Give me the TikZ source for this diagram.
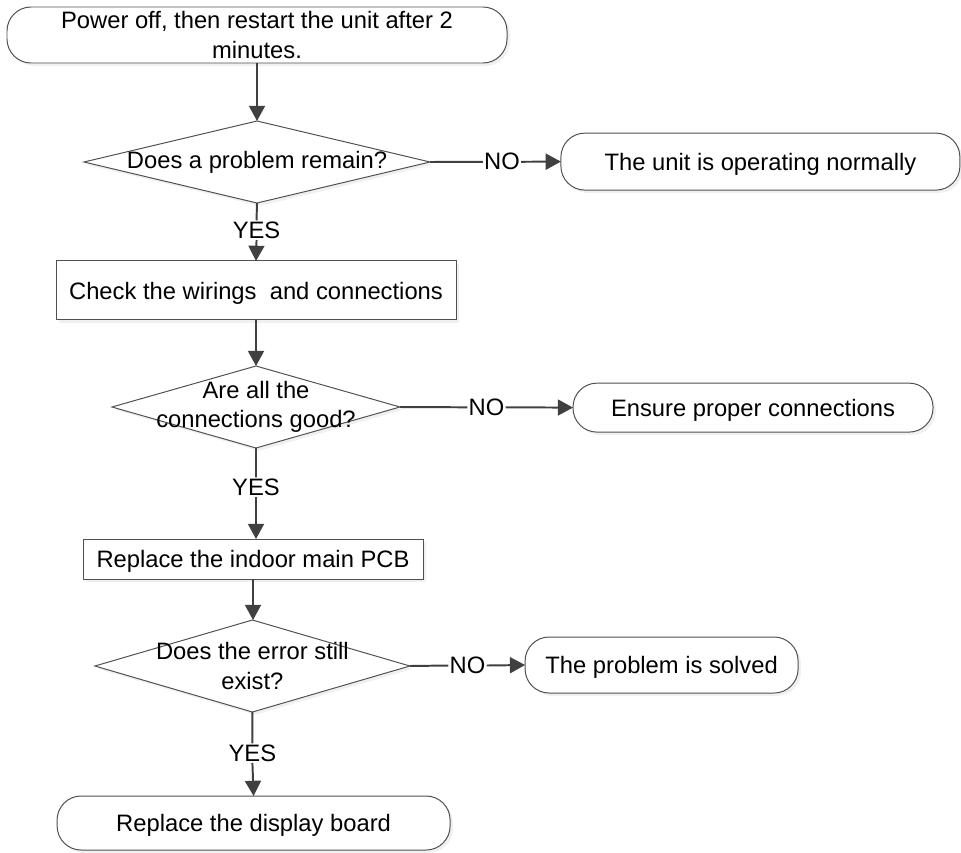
\documentclass[tikz,border=0pt]{standalone}
\usepackage{fontspec}
\setmainfont{Liberation Sans}
\definecolor{fcline}{RGB}{64,64,64}
\definecolor{fcborder}{RGB}{80,80,80}
\newcommand{\ztxt}[1]{\makebox[0pt]{#1}}
\usetikzlibrary{arrows.meta,positioning,shapes.geometric,shadows,calc}

\begin{document}
\begin{tikzpicture}[
  font=\fontsize{16.9}{21}\selectfont,
  fcshadow/.style={drop shadow={shadow xshift=2pt,shadow yshift=-2pt,opacity=0.12}},
  fcterm/.style={draw=fcborder,line width=0.7pt,fill=white,rounded corners=0.6cm,
    align=center,inner sep=2pt,outer sep=0pt,text depth=0pt,fcshadow},
  fcbox/.style={draw=fcborder,line width=0.7pt,fill=white,align=center,
    inner sep=2pt,outer sep=0pt,text depth=0pt,fcshadow},
  fcdec/.style={diamond,draw=fcborder,line width=0.7pt,fill=white,align=center,
    inner sep=0pt,outer sep=0pt,fcshadow},
  fcwire/.style={draw=fcline,line width=1.4pt},
  fcflow/.style={fcwire,-{Triangle[length=0.38cm,width=0.4cm]}},
  fclbl/.style={inner sep=1pt,outer sep=0pt}
]
  \useasboundingbox (0,0) rectangle (24.025,-21.3);
  % Start
  \node[fcterm,minimum width=12.5cm,minimum height=1.4cm] (start) at (6.425,-0.875)
    {Power off, then restart the unit after 2\\minutes.};
  % Question 1: problem remains
  \node[fcdec,minimum width=8.65cm,minimum height=2.05cm] (dec1) at (6.425,-4.05)
    {\ztxt{Does a problem remain?}};
  \node[fcterm,minimum width=9.975cm,minimum height=1.425cm] (ok1) at (19.01,-4.04)
    {The unit is operating normally};
  % Step 1: wiring
  \node[fcbox,minimum width=10cm,minimum height=1.475cm] (wire) at (6.4,-7.26)
    {Check the wirings\ \ and connections};
  % Question 2: connections
  \node[fcdec,minimum width=7.2cm,minimum height=2.05cm] (dec2) at (6.4,-10.175)
    {\ztxt{Are all the}\\\ztxt{connections good?}};
  \node[fcterm,minimum width=9cm,minimum height=1.225cm] (ok2) at (18.825,-10.19)
    {Ensure proper connections};
  % Step 2: main PCB
  \node[fcbox,minimum width=8.5cm,minimum height=1cm] (pcb) at (6.325,-13.975)
    {Replace the indoor main PCB};
  % Question 3: error still there
  \node[fcdec,minimum width=7.875cm,minimum height=2.3cm] (dec3) at (6.31,-16.65)
    {\ztxt{Does the error still}\\\ztxt{exist?}};
  \node[fcterm,minimum width=6.825cm,minimum height=1.4cm] (ok3) at (16.54,-16.625)
    {The problem is solved};
  % End
  \node[fcterm,minimum width=9.825cm,minimum height=1.35cm] (disp) at (6.34,-20.575)
    {Replace the display board};

  % YES / NO labels
  \node[fclbl] (no1) at ($(dec1.east)!0.55!(ok1.west)$) {NO};
  \node[fclbl] (no2) at ($(dec2.east)!0.5!(ok2.west)$) {NO};
  \node[fclbl] (no3) at ($(dec3.east)!0.5!(ok3.west)$) {NO};
  \node[fclbl] (yes1) at ($(dec1.south)!0.47!(wire.north)$) {YES};
  \node[fclbl] (yes2) at ($(dec2.south)!0.43!(dec2.south |- pcb.north)$) {YES};
  \node[fclbl] (yes3) at ($(dec3.south)!0.49!(dec3.south |- disp.north)$) {YES};

  % Connectors
  \draw[fcflow] (start.south) -- (dec1.north);
  \draw[fcwire] (dec1.east) -- (no1.west);
  \draw[fcflow] (no1.east) -- (ok1.west);
  \draw[fcwire] (dec1.south) -- (yes1.north);
  \draw[fcflow] (yes1.south) -- (wire.north);
  \draw[fcflow] (wire.south) -- (dec2.north);
  \draw[fcwire] (dec2.east) -- (no2.west);
  \draw[fcflow] (no2.east) -- (ok2.west);
  \draw[fcwire] (dec2.south) -- (yes2.north);
  \draw[fcflow] (yes2.south) -- (yes2.south |- pcb.north);
  \draw[fcflow] (pcb.south) -- (pcb.south |- dec3.north);
  \draw[fcwire] (dec3.east) -- (no3.west);
  \draw[fcflow] (no3.east) -- (ok3.west);
  \draw[fcwire] (dec3.south) -- (yes3.north);
  \draw[fcflow] (yes3.south) -- (disp.north);
\end{tikzpicture}
\end{document}
